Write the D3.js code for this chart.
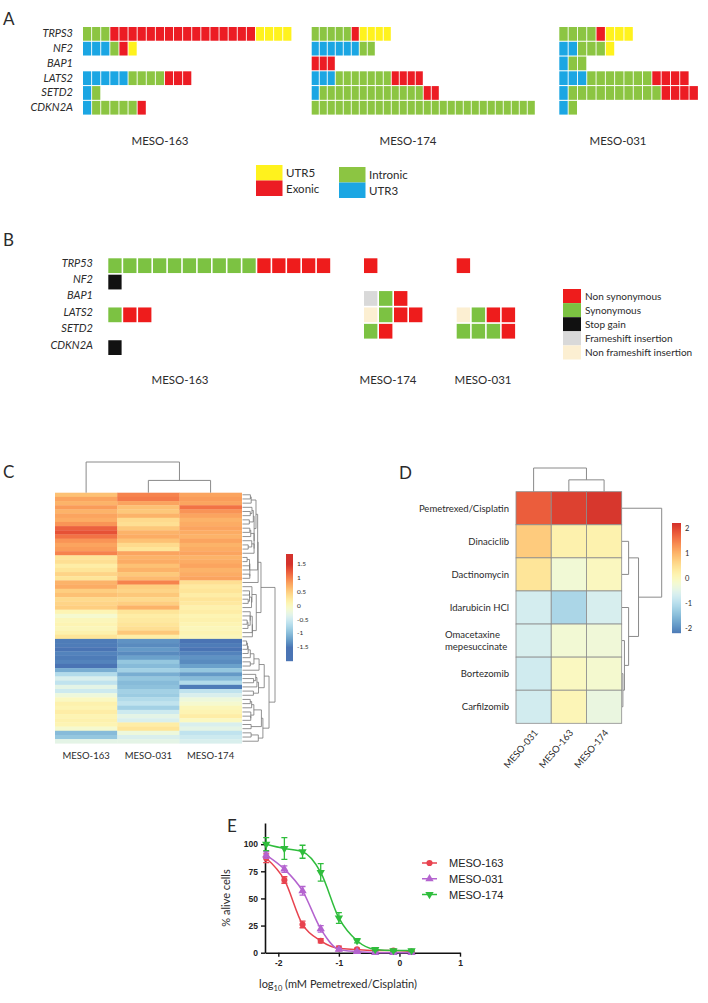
<!DOCTYPE html>
<html><head><meta charset="utf-8">
<script src="https://cdn.jsdelivr.net/npm/d3@7"></script>
<style>body{margin:0;background:#fff}svg{display:block}</style>
</head><body>
<svg id="chart" width="708" height="1003"></svg>
<script>
// ================= DATA =================
// Panel A
const genesA = ["TRPS3","NF2","BAP1","LATS2","SETD2","CDKN2A"];
const samplesA = ["MESO-163","MESO-174","MESO-031"];
const regionTypes = ["UTR5","Exonic","Intronic","UTR3"];
const regionsMESO163 = [
 [["Intronic",3],["Exonic",16],["UTR5",4]],
 [["UTR3",3],["Intronic",1],["Exonic",1],["UTR5",1]],
 [],
 [["UTR3",5],["Intronic",4],["Exonic",3]],
 [["UTR3",1],["Intronic",1]],
 [["UTR3",1],["Intronic",5],["Exonic",1]]
];
const regionsMESO174 = [
 [["Intronic",5],["Exonic",1],["UTR5",4]],
 [["UTR3",6],["Intronic",2]],
 [["Exonic",3]],
 [["UTR3",3],["Intronic",7],["Exonic",4]],
 [["UTR3",1],["Intronic",13],["Exonic",2]],
 [["Intronic",28]]
];
const regionsMESO031 = [
 [["Intronic",4],["Exonic",1],["UTR5",3]],
 [["UTR3",2],["Intronic",3],["UTR5",1]],
 [["UTR3",1],["Intronic",2]],
 [["UTR3",3],["Intronic",7],["Exonic",4]],
 [["UTR3",1],["Intronic",10],["Exonic",4]],
 [["UTR3",1],["Intronic",1]]
];
// Panel B
const genesB = ["TRP53","NF2","BAP1","LATS2","SETD2","CDKN2A"];
const samplesB = ["MESO-163","MESO-174","MESO-031"];
const mutTypes = ["Non synonymous","Synonymous","Stop gain","Frameshift insertion","Non frameshift insertion"];
const mutMESO163 = [
 [["Synonymous",10],["Non synonymous",5]],
 [["Stop gain",1]],
 [],
 [["Synonymous",1],["Non synonymous",2]],
 [],
 [["Stop gain",1]]
];
const mutMESO174 = [
 [["Non synonymous",1]],
 [],
 [["Frameshift insertion",1],["Synonymous",1],["Non synonymous",1]],
 [["Non frameshift insertion",1],["Synonymous",1],["Non synonymous",2]],
 [["Synonymous",1],["Non synonymous",1]],
 []
];
const mutMESO031 = [
 [["Non synonymous",1]],
 [],
 [],
 [["Non frameshift insertion",1],["Synonymous",1],["Non synonymous",2]],
 [["Synonymous",3],["Non synonymous",1]],
 []
];
// Panel C
const samplesC = ["MESO-163","MESO-031","MESO-174"];
const heatC163 = [0.6,0.8,0.7,0.85,0.7,0.8,0.75,0.9,1.2,1.3,1.1,0.9,0.8,0.85,1.0,0.3,0.35,0.2,0.3,0.45,0.3,0.7,0.75,0.5,0.6,0.4,0.45,0.5,0.1,-0.1,0.05,0.1,0.05,0.15,0.3,-1.45,-1.45,-1.5,-1.4,-1.45,-1.4,-1.5,-1.1,-0.7,-0.4,-0.6,-0.3,-0.5,-0.2,0.0,0.15,0.1,0.2,0.1,0.15,0.1,-0.1,-1.0,-0.9,-0.3];
const heatC031 = [1.0,1.05,0.8,0.6,0.55,0.7,0.4,0.35,0.55,0.7,0.75,0.6,0.4,0.3,0.8,0.7,0.75,0.6,0.7,0.55,0.65,1.0,0.5,0.45,0.55,0.4,0.5,0.7,0.3,0.2,0.25,0.3,0.35,0.55,0.2,-1.3,-1.35,-1.25,-1.35,-1.2,-0.9,-1.0,-0.8,-1.1,-0.9,-1.0,-0.95,-0.8,-0.85,-0.7,-0.6,-0.8,-0.5,-0.3,-0.4,0.2,0.3,-0.2,-0.4,-0.3];
const heatC174 = [0.8,0.85,0.8,1.1,0.9,0.8,0.7,0.75,0.8,0.75,0.7,0.8,0.7,0.75,0.8,0.7,0.75,0.8,0.7,0.75,0.8,0.35,0.25,0.3,0.2,0.3,0.25,0.15,0.2,0.1,0.15,0.1,0.05,0.1,0.05,-1.5,-1.45,-1.5,-1.4,-1.3,-1.35,-1.2,-0.9,-1.25,-1.0,-0.7,-1.45,-0.6,-0.4,-0.2,-0.1,0.05,0.1,0.2,0.0,-0.4,-0.3,-0.6,-0.5,-0.4];
const colorTicksC = [1.5,1,0.5,0,-0.5,-1,-1.5];
const colTreeC = [{a:1,b:2,h:0.4},{a:0,b:"m0",h:1}];
// Panel D
const drugs = ["Pemetrexed/Cisplatin","Dinaciclib","Dactinomycin","Idarubicin HCl","Omacetaxine\nmepesuccinate","Bortezomib","Carfilzomib"];
const samplesD = ["MESO-031","MESO-163","MESO-174"];
const drugMESO031 = [1.8,0.77,0.44,-0.66,-0.6,-0.7,-0.68];
const drugMESO163 = [2.05,0.22,-0.22,-1.1,-0.2,0.0,0.1];
const drugMESO174 = [2.15,0.2,0.02,-0.62,-0.25,-0.15,-0.35];
const colorTicksD = [2,1,0,-1,-2];
const rowTreeD = [{a:1,b:2,h:0.6},{a:5,b:6,h:0.08},{a:4,b:"m1",h:0.22},{a:3,b:"m2",h:0.6},{a:"m0",b:"m3",h:1.5},{a:0,b:"m4",h:3.6}];
const colTreeD = [{a:1,b:2,h:0.5},{a:0,b:"m0",h:1}];
// Panel E
const logConc = [-2.2,-1.9,-1.6,-1.3,-1.0,-0.7,-0.4,-0.1,0.2];
const alive163 = [87,67,26,11,4,3,2,2,1];
const sem163 = [4,3,3,2,2,1,1,1,1];
const alive031 = [90,77,57,22,3,1,0,0,0];
const sem031 = [3,3,4,3,1,1,1,1,1];
const alive174 = [100,96,93,74,32,11,3,2,2];
const sem174 = [6,10,6,8,5,2,1,1,1];
const seriesE = ["MESO-163","MESO-031","MESO-174"];
const xTicksE = [-2,-1,0,1];
const yTicksE = [0,25,50,75,100];

// ================= DRAW =================
const svg = d3.select("#chart");
const FONT = "Lato, 'Open Sans', sans-serif";
const ARIAL = "'Liberation Sans', Arial, sans-serif";
const TXT = "#2b2b2b";

function letter(t,x,y){svg.append("text").attr("x",x).attr("y",y).attr("font-family",FONT).attr("font-size",17).attr("fill",TXT).text(t);}

// ---------- Panel A ----------
letter("A",3,25);
const colorA = d3.scaleOrdinal().domain(regionTypes).range(["#fff21d","#ec1c24","#8cc542","#1ba6e3"]);
const yA = d3.scaleBand().domain(genesA).range([27,114.6]).paddingInner(0.07).paddingOuter(0);
const gA = svg.append("g");
gA.selectAll("text.gene").data(genesA).join("text")
  .attr("x",73).attr("y",d=>yA(d)+yA.bandwidth()/2+3.5)
  .attr("text-anchor","end").attr("font-family",FONT).attr("font-style","italic")
  .attr("font-size",11).attr("fill",TXT).text(d=>d);
const regionData = [regionsMESO163,regionsMESO174,regionsMESO031];
const layoutA = [{x0:83,p:9.1,lx:160},{x0:311.7,p:8.0,lx:408},{x0:559.3,p:9.3,lx:618}];
function expand(runs){const out=[];runs.forEach(([t,n])=>{for(let i=0;i<n;i++)out.push(t);});return out;}
regionData.forEach((rows,s)=>{
  const L = layoutA[s];
  const x = d3.scaleLinear().domain([0,1]).range([L.x0,L.x0+L.p]);
  rows.forEach((runs,gi)=>{
    const cells = expand(runs);
    gA.append("g").selectAll("rect").data(cells).join("rect")
      .attr("x",(d,i)=>x(i)).attr("y",yA(genesA[gi]))
      .attr("width",L.p-0.9).attr("height",yA.bandwidth())
      .attr("fill",d=>colorA(d));
  });
  gA.append("text").attr("x",L.lx).attr("y",145).attr("text-anchor","middle")
    .attr("font-family",FONT).attr("font-size",11.5).attr("fill",TXT).text(samplesA[s]);
});
// legend A
const legA = [{t:"UTR5",x:256,y:165},{t:"Exonic",x:256,y:180.5},{t:"Intronic",x:339,y:167},{t:"UTR3",x:339,y:182.5}];
gA.selectAll("rect.leg").data(legA).join("rect").attr("class","leg")
  .attr("x",d=>d.x).attr("y",d=>d.y).attr("width",26.5).attr("height",15.5).attr("fill",d=>colorA(d.t));
gA.selectAll("text.leg").data(legA).join("text").attr("class","leg")
  .attr("x",d=>d.x+30).attr("y",d=>d.y+12).attr("font-family",FONT).attr("font-size",11.5).attr("fill",TXT).text(d=>d.t);

// ---------- Panel B ----------
letter("B",3,246);
const colorB = d3.scaleOrdinal().domain(mutTypes).range(["#ee1c1c","#7cc242","#111111","#d9d9d9","#fcefd2"]);
const yB = d3.scaleBand().domain(genesB).range([258.3,355]).paddingInner(0.1).paddingOuter(0);
const gB = svg.append("g");
gB.selectAll("text.gene").data(genesB).join("text")
  .attr("x",93).attr("y",d=>yB(d)+yB.bandwidth()/2+1)
  .attr("text-anchor","end").attr("font-family",FONT).attr("font-style","italic")
  .attr("font-size",11).attr("fill",TXT).text(d=>d);
const mutData = [mutMESO163,mutMESO174,mutMESO031];
const layoutB = [{x0:108.3,p:14.9,lx:180},{x0:364,p:15,lx:388},{x0:456.7,p:15,lx:483}];
mutData.forEach((rows,s)=>{
  const L = layoutB[s];
  const x = d3.scaleLinear().domain([0,1]).range([L.x0,L.x0+L.p]);
  rows.forEach((runs,gi)=>{
    const cells = expand(runs);
    gB.append("g").selectAll("rect").data(cells).join("rect")
      .attr("x",(d,i)=>x(i)).attr("y",yB(genesB[gi]))
      .attr("width",L.p-1.6).attr("height",yB.bandwidth())
      .attr("fill",d=>colorB(d));
  });
  gB.append("text").attr("x",L.lx).attr("y",384).attr("text-anchor","middle")
    .attr("font-family",FONT).attr("font-size",11.5).attr("fill",TXT).text(samplesB[s]);
});
const yLegB = d3.scaleBand().domain(mutTypes).range([289,359.5]);
gB.selectAll("rect.leg").data(mutTypes).join("rect").attr("class","leg")
  .attr("x",563).attr("y",d=>yLegB(d)).attr("width",18).attr("height",yLegB.bandwidth()).attr("fill",d=>colorB(d));
gB.selectAll("text.leg").data(mutTypes).join("text").attr("class","leg")
  .attr("x",585).attr("y",d=>yLegB(d)+yLegB.bandwidth()/2+3.5)
  .attr("font-family",FONT).attr("font-size",10).attr("fill",TXT).text(d=>d);

// ---------- Panel C ----------
letter("C",3,478);
const gC = svg.append("g");
const heatCols = [heatC163,heatC031,heatC174];
const nRows = heatC163.length;
const xC = d3.scaleBand().domain(samplesC).range([55,241.7]);
const yC = d3.scaleBand().domain(d3.range(nRows)).range([492.7,743.3]);
const tC = d3.scaleLinear().domain([1.5,-1.5]).range([0.1,0.9]).clamp(true);
const colC = v=>d3.interpolateRdYlBu(tC(v));
samplesC.forEach((s,ci)=>{
  gC.append("g").selectAll("rect").data(heatCols[ci]).join("rect")
    .attr("x",xC(s)).attr("y",(d,i)=>yC(i)).attr("width",xC.bandwidth()+0.3).attr("height",yC.bandwidth()+0.3)
    .attr("fill",d=>colC(d));
});
gC.selectAll("text.col").data(samplesC).join("text").attr("class","col")
  .attr("x",d=>xC(d)+xC.bandwidth()/2).attr("y",759).attr("text-anchor","middle")
  .attr("font-family",FONT).attr("font-size",9.5).attr("fill",TXT).text(d=>d);
// column dendrogram C
function drawColTree(g,tree,centers,yScale,yBase){
  const nodes = {};
  const pos = k => (typeof k==="string") ? nodes[k] : {x:centers[k],h:0};
  tree.forEach((m,i)=>{
    const a=pos(m.a), b=pos(m.b), y=yScale(m.h);
    const p = d3.path();
    p.moveTo(a.x, a.h===0?yBase:yScale(a.h)); p.lineTo(a.x,y); p.lineTo(b.x,y); p.lineTo(b.x, b.h===0?yBase:yScale(b.h));
    g.append("path").attr("d",p.toString()).attr("fill","none").attr("stroke","#8a8a8a").attr("stroke-width",1);
    nodes["m"+i] = {x:(a.x+b.x)/2,h:m.h};
  });
}
drawColTree(gC,colTreeC,samplesC.map(s=>xC(s)+xC.bandwidth()/2),d3.scaleLinear().domain([0,1]).range([492.7,462]),492.7);
// row dendrogram C (contiguous average-linkage on the heat values)
const rowVec = d3.range(nRows).map(i=>heatCols.map(c=>c[i]));
let clusters = rowVec.map((v,i)=>({members:[i],y:yC(i)+yC.bandwidth()/2,h:0}));
const merges=[];
function cdist(a,b){let s=0;for(const i of a.members)for(const j of b.members){s+=Math.hypot(...rowVec[i].map((x,k)=>x-rowVec[j][k]));}return s/(a.members.length*b.members.length);}
while(clusters.length>1){
  let best=0,bd=Infinity;
  for(let i=0;i<clusters.length-1;i++){const d=cdist(clusters[i],clusters[i+1]);if(d<bd){bd=d;best=i;}}
  const a=clusters[best],b=clusters[best+1];
  const node={members:a.members.concat(b.members),y:(a.y+b.y)/2,h:Math.max(bd,a.h,b.h)+0.001,a,b};
  merges.push(node);clusters.splice(best,2,node);
}
const hMax = clusters[0].h;
const xDen = d3.scalePow().exponent(0.6).domain([0,hMax]).range([242.5,275]);
merges.forEach(n=>{
  const p=d3.path();
  p.moveTo(xDen(n.a.h),n.a.y);p.lineTo(xDen(n.h),n.a.y);p.lineTo(xDen(n.h),n.b.y);p.lineTo(xDen(n.b.h),n.b.y);
  gC.append("path").attr("d",p.toString()).attr("fill","none").attr("stroke","#777").attr("stroke-width",0.8);
});
// colorbar C
const barC = d3.scaleLinear().domain([1.85,-2.0]).range([554,661]);
const stepsC = d3.range(554,661,1);
gC.selectAll("rect.cb").data(stepsC).join("rect").attr("class","cb")
  .attr("x",286).attr("y",d=>d).attr("width",7).attr("height",1.2).attr("fill",d=>colC(barC.invert(d)));
gC.selectAll("text.cbt").data(colorTicksC).join("text").attr("class","cbt")
  .attr("x",297).attr("y",d=>barC(d)+2.2).attr("font-family",FONT).attr("font-size",6.5).attr("fill",TXT).text(d=>d);

// ---------- Panel D ----------
letter("D",399,479);
const gD = svg.append("g");
const drugCols = [drugMESO031,drugMESO163,drugMESO174];
const xD = d3.scaleBand().domain(samplesD).range([516,621.7]);
const yD = d3.scaleBand().domain(drugs).range([491.7,723.3]);
const tD = d3.scaleLinear().domain([2.2,-2.2]).range([0.1,0.9]).clamp(true);
const colD = v=>d3.interpolateRdYlBu(tD(v));
samplesD.forEach((s,ci)=>{
  gD.append("g").selectAll("rect").data(drugCols[ci]).join("rect")
    .attr("x",xD(s)).attr("y",(d,i)=>yD(drugs[i])).attr("width",xD.bandwidth()).attr("height",yD.bandwidth())
    .attr("fill",d=>colD(d)).attr("stroke","#8c8c8c").attr("stroke-width",0.8);
});
drugs.forEach(d=>{
  const lines=d.split("\n");
  const cy=yD(d)+yD.bandwidth()/2;
  lines.forEach((l,i)=>{
    gD.append("text").attr("x",lines.length>1?445:509).attr("text-anchor",lines.length>1?"start":"end")
      .attr("y",cy+3.5+(i-(lines.length-1)/2)*12.5)
      .attr("font-family",FONT).attr("font-size",9.5).attr("fill",TXT).text(l);
  });
});
gD.selectAll("text.col").data(samplesD).join("text").attr("class","col")
  .attr("transform",d=>`translate(${xD(d)+xD.bandwidth()/2+5},${733}) rotate(-50)`)
  .attr("text-anchor","end").attr("font-family",FONT).attr("font-size",9.5).attr("fill",TXT).text(d=>d);
drawColTree(gD,colTreeD,samplesD.map(s=>xD(s)+xD.bandwidth()/2),d3.scaleLinear().domain([0,1]).range([491.7,468]),491.7);
// row dendrogram D
(function(){
  const nodes={};
  const xs=d3.scaleLinear().domain([0,3.6]).range([622,661.7]);
  const pos=k=>(typeof k==="string")?nodes[k]:{y:yD(drugs[k])+yD.bandwidth()/2,h:0};
  rowTreeD.forEach((m,i)=>{
    const a=pos(m.a),b=pos(m.b);
    const p=d3.path();
    p.moveTo(xs(a.h),a.y);p.lineTo(xs(m.h),a.y);p.lineTo(xs(m.h),b.y);p.lineTo(xs(b.h),b.y);
    gD.append("path").attr("d",p.toString()).attr("fill","none").attr("stroke","#8a8a8a").attr("stroke-width",1);
    nodes["m"+i]={y:(a.y+b.y)/2,h:m.h};
  });
})();
// colorbar D
const barD = d3.scaleLinear().domain([2.2,-2.16]).range([523,633]);
gD.selectAll("rect.cb").data(d3.range(523,633,1)).join("rect").attr("class","cb")
  .attr("x",672).attr("y",d=>d).attr("width",9).attr("height",1.2).attr("fill",d=>colD(barD.invert(d)));
gD.selectAll("text.cbt").data(colorTicksD).join("text").attr("class","cbt")
  .attr("x",685).attr("y",d=>barD(d)+2.5).attr("font-family",FONT).attr("font-size",7.5).attr("fill",TXT).text(d=>d);

// ---------- Panel E ----------
letter("E",227,832);
const gE = svg.append("g");
const xE = d3.scaleLinear().domain([-2.22,1]).range([265,460]);
const yE = d3.scaleLinear().domain([0,119.5]).range([952.7,823]);
const axX = gE.append("g").attr("transform","translate(0,952.7)").call(d3.axisBottom(xE).tickValues(xTicksE).tickSize(4).tickSizeOuter(0).tickFormat(d3.format("d")));
const axY = gE.append("g").attr("transform","translate(265,0)").call(d3.axisLeft(yE).tickValues(yTicksE).tickSize(4).tickSizeOuter(0));
[axX,axY].forEach(a=>{
  a.select(".domain").attr("stroke","#111").attr("stroke-width",1.6);
  a.selectAll(".tick line").attr("stroke","#111").attr("stroke-width",1.4);
  a.selectAll(".tick text").attr("font-family",ARIAL).attr("font-weight","bold").attr("font-size",8.5).attr("fill","#222");
});
axX.selectAll(".tick text").text(d=>d<0?"-"+Math.abs(d):d);
const colE = d3.scaleOrdinal().domain(seriesE).range(["#e8434f","#b463cf","#2fbd3c"]);
const symE = d3.scaleOrdinal().domain(seriesE).range([d3.symbolCircle,d3.symbolTriangle,d3.symbolTriangle]);
const rotE = d3.scaleOrdinal().domain(seriesE).range([0,0,180]);
const valsE = [alive163,alive031,alive174], semE=[sem163,sem031,sem174];
const lineE = d3.line().x(d=>xE(d[0])).y(d=>yE(d[1])).curve(d3.curveMonotoneX);
seriesE.forEach((s,si)=>{
  const pts = logConc.map((c,i)=>[c,valsE[si][i],semE[si][i]]);
  const g = gE.append("g");
  g.append("path").attr("d",lineE(pts)).attr("fill","none").attr("stroke",colE(s)).attr("stroke-width",1.5);
  g.selectAll("path.eb").data(pts).join("path").attr("class","eb")
    .attr("d",d=>{const x=xE(d[0]),y1=yE(d[1]+d[2]),y0=yE(Math.max(0,d[1]-d[2]));return `M${x-3},${y1}H${x+3}M${x},${y1}V${y0}M${x-3},${y0}H${x+3}`;})
    .attr("stroke",colE(s)).attr("stroke-width",1.3).attr("fill","none");
  g.selectAll("path.pt").data(pts).join("path").attr("class","pt")
    .attr("transform",d=>`translate(${xE(d[0])},${yE(d[1])}) rotate(${rotE(s)})`)
    .attr("d",d3.symbol().type(symE(s)).size(30)).attr("fill",colE(s));
});
// legend E
const yLegE = d3.scalePoint().domain(seriesE).range([863,894.5]);
seriesE.forEach(s=>{
  const y=yLegE(s);
  gE.append("line").attr("x1",422).attr("x2",437).attr("y1",y).attr("y2",y).attr("stroke",colE(s)).attr("stroke-width",1.5);
  gE.append("path").attr("transform",`translate(429.5,${y}) rotate(${rotE(s)})`).attr("d",d3.symbol().type(symE(s)).size(30)).attr("fill",colE(s));
  gE.append("text").attr("x",449).attr("y",y+4).attr("font-family",ARIAL).attr("font-size",11).attr("fill","#222").text(s);
});
gE.append("text").attr("transform","translate(230,898) rotate(-90)").attr("text-anchor","middle")
  .attr("font-family",FONT).attr("font-size",11).attr("fill",TXT).text("% alive cells");
const xl = gE.append("text").attr("x",338).attr("y",988).attr("text-anchor","middle")
  .attr("font-family",FONT).attr("font-size",11).attr("fill",TXT);
xl.append("tspan").text("log");
xl.append("tspan").attr("font-size",7.5).attr("dy",3).text("10");
xl.append("tspan").attr("dy",-3).text(" (mM Pemetrexed/Cisplatin)");
</script>
</body></html>
